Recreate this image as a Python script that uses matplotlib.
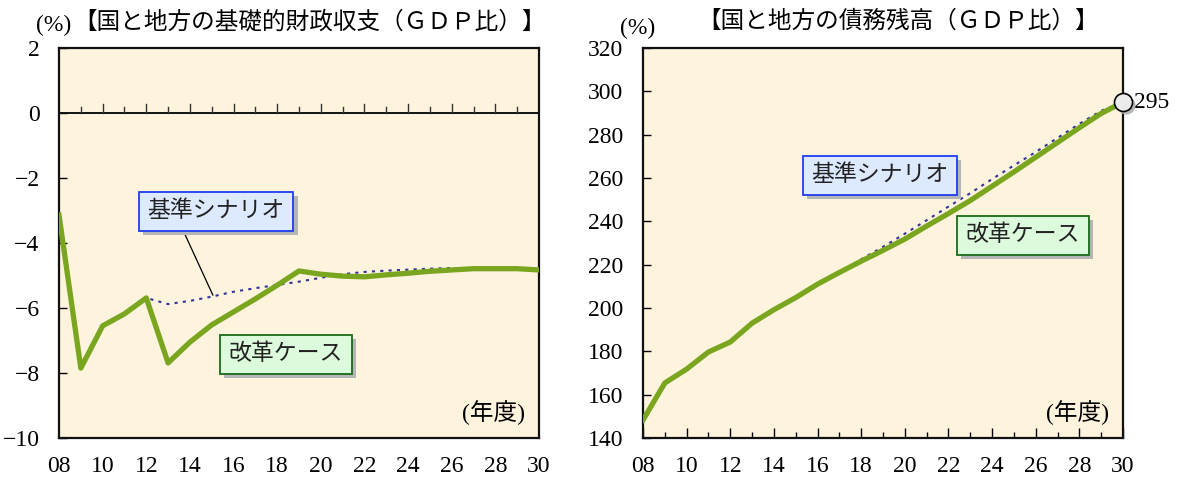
import matplotlib.pyplot as plt
import matplotlib.patheffects as pe
from matplotlib.transforms import offset_copy
import numpy as np

plt.rcParams['font.family'] = ['Liberation Serif', 'Noto Sans CJK JP']

years = np.arange(2008, 2031)
year_ticks = ['08', '10', '12', '14', '16', '18', '20', '22', '24', '26', '28', '30']

# primary balance, % of GDP
pb_reform = [-3.14, -7.85, -6.55, -6.18, -5.69, -7.69, -7.05, -6.52, -6.12, -5.72, -5.3, -4.86,
             -4.96, -5.02, -5.04, -4.98, -4.93, -4.87, -4.83, -4.79, -4.79, -4.79, -4.83]
pb_base = [-3.14, -7.85, -6.55, -6.18, -5.69, -5.88, -5.78, -5.65, -5.5, -5.39, -5.29, -5.19,
           -5.07, -4.96, -4.89, -4.85, -4.82, -4.79, -4.77, -4.78, -4.8, -4.8, -4.83]

# debt outstanding, % of GDP
debt_reform = [148.3, 165.4, 171.8, 179.7, 184.3, 193.0, 199.2, 204.8, 211.0, 216.4, 221.6, 226.6,
               231.8, 237.8, 243.6, 249.6, 256.2, 262.8, 269.6, 276.4, 283.2, 289.8, 295.0]
debt_base = [148.3, 165.4, 171.8, 179.7, 184.3, 193.0, 199.2, 204.8, 211.0, 216.4, 222.5, 228.2,
             234.3, 240.5, 246.8, 253.0, 259.5, 265.8, 272.0, 278.5, 285.0, 291.0, 295.0]
debt_end = 295

green = '#7aa51f'
blue = '#33339a'
cream = '#fef3dd'

fig = plt.figure(figsize=(11.79, 4.78), dpi=100)
ax1 = fig.add_axes([59 / 1179, 40 / 478, 480 / 1179, 390 / 478])
ax2 = fig.add_axes([643 / 1179, 40 / 478, 480 / 1179, 390 / 478])


def label_box(ax, x, y, text, fc, ec):
    t = ax.text(x, y, text, ha='center', va='center', fontsize=16.5, color='#222222',
                bbox=dict(boxstyle='square,pad=0.38', fc=fc, ec=ec, lw=1.3), zorder=6)
    t.get_bbox_patch().set_path_effects(
        [pe.SimplePatchShadow(offset=(3, -3), shadow_rgbFace='#b5b5b5', alpha=1), pe.Normal()])


for ax in (ax1, ax2):
    ax.set_facecolor(cream)
    ax.set_xlim(2008, 2030)
    ax.set_xticks(years[::2])
    ax.set_xticklabels(year_ticks)
    for s in ax.spines.values():
        s.set_linewidth(1.6)
        s.set_color('#111111')
    ax.tick_params(axis='y', direction='in', length=6, width=1, pad=14, labelsize=17)
    ax.tick_params(axis='x', labelsize=17)
    ax.text(0.97, 0.065, '(年度)', transform=ax.transAxes, ha='right', va='center', fontsize=17)

# left panel
ax1.set_ylim(-10, 2)
ax1.set_yticks(range(-10, 3, 2))
ax1.tick_params(axis='x', length=0, pad=13)
ax1.axhline(0, color='#111111', lw=1.4)
for yr in years[1:-1]:
    h = 0.28 if yr % 2 == 0 else 0.18
    ax1.plot([yr, yr], [0, h], color='#333333', lw=1)
ax1.plot(years, pb_base, color=blue, lw=1.5, ls=(0, (1.5, 2.5)), zorder=3)
ax1.plot(years, pb_reform, color=green, lw=3.8, zorder=4)
ax1.plot([2013.68, 2015.05], [-3.6, -5.6], color='black', lw=0.9, zorder=5)
label_box(ax1, 2015.2, -3.03, '基準シナリオ', '#dde9ff', '#1f3cf0')
label_box(ax1, 2018.4, -7.42, '改革ケース', '#dcfadc', '#1a6a1a')

# right panel
ax2.set_ylim(140, 320)
ax2.set_yticks(range(140, 321, 20))
ax2.set_xticks(years, minor=True)
ax2.tick_params(axis='x', which='major', direction='in', length=7, width=1, pad=13)
ax2.tick_params(axis='x', which='minor', direction='in', length=4, width=1)
ax2.plot(years, debt_base, color=blue, lw=1.5, ls=(0, (1.5, 2.5)), zorder=3)
ax2.plot(years, debt_reform, color=green, lw=3.8, zorder=4)
shadow = offset_copy(ax2.transData, fig=fig, x=3, y=-3, units='dots')
ax2.plot([2030], [debt_end], 'o', ms=13, color='#b5b5b5', mec='none', transform=shadow,
         clip_on=False, zorder=6)
ax2.plot([2030], [debt_end], 'o', ms=13, mfc='#ececec', mec='black', mew=1.2,
         clip_on=False, zorder=7)
ax2.text(2030.5, debt_end, str(debt_end), ha='left', va='center', fontsize=17)
label_box(ax2, 2018.86, 261.2, '基準シナリオ', '#dde9ff', '#1f3cf0')
label_box(ax2, 2025.4, 233.5, '改革ケース', '#dcfadc', '#1a6a1a')

fig.text(36 / 1179, 1 - 25 / 478, '(%)', ha='left', va='center', fontsize=17)
fig.text(310 / 1179, 1 - 22 / 478, '【国と地方の基礎的財政収支（ＧＤＰ比）】', ha='center', va='center', fontsize=17)
fig.text(620 / 1179, 1 - 28 / 478, '(%)', ha='left', va='center', fontsize=17)
fig.text(898 / 1179, 1 - 22 / 478, '【国と地方の債務残高（ＧＤＰ比）】', ha='center', va='center', fontsize=17)

fig.savefig('out.png', dpi=100)
